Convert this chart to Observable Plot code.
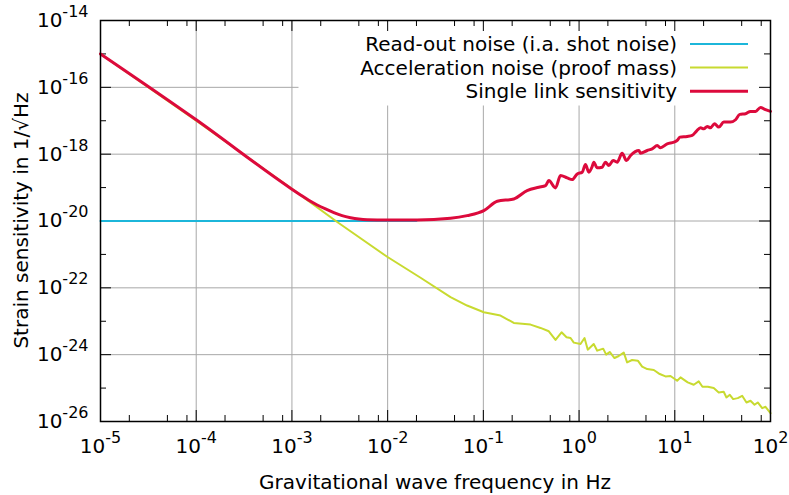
<!DOCTYPE html>
<html>
<head>
<meta charset="utf-8">
<script src="https://cdn.jsdelivr.net/npm/d3@7"></script>
<script src="https://cdn.jsdelivr.net/npm/@observablehq/plot@0.6"></script>
<style>
  html, body { margin: 0; padding: 0; background: #fff; }
  #chart { width: 789px; height: 495px; }
</style>
</head>
<body>
<div id="chart"></div>
<script>
// ---- data (log10 exponents) ----
const readoutFreqExp   = [-5, -4, -3, -2, -1.7];
const readoutStrainExp = [-20, -20, -20, -20, -20];

const accelFreqExp = [-5, -4, -3, -2.527, -2.005, -1.66, -1.343, -1.170, -0.995, -0.821, -0.682,
  -0.507, -0.403, -0.316, -0.246, -0.183, -0.131, -0.089, -0.055, 0.015, 0.057,
  0.091, 0.153, 0.190, 0.252, 0.283, 0.320, 0.370, 0.414, 0.467, 0.502,
  0.554, 0.614, 0.659, 0.712, 0.781, 0.843, 0.903, 0.955, 1.025, 1.060,
  1.135, 1.198, 1.250, 1.289, 1.345, 1.407, 1.459, 1.511, 1.540, 1.575,
  1.610, 1.658, 1.704, 1.749, 1.791, 1.833, 1.867, 1.913, 1.948, 2.000];
const accelStrainExp = [-15.00, -17.00, -19.04, -20.03, -21.07, -21.69, -22.28, -22.53, -22.73, -22.83, -23.05,
  -23.10, -23.20, -23.30, -23.56, -23.33, -23.48, -23.50, -23.64, -23.68, -23.50,
  -23.85, -23.68, -23.88, -23.82, -24.00, -23.92, -24.10, -24.04, -23.94, -24.23,
  -24.16, -24.18, -24.36, -24.43, -24.46, -24.58, -24.65, -24.64, -24.78, -24.68,
  -24.83, -24.90, -24.80, -24.96, -24.96, -25.00, -25.13, -25.11, -25.28, -25.20,
  -25.33, -25.30, -25.23, -25.43, -25.38, -25.50, -25.43, -25.60, -25.56, -25.75];

const sensFreqExp = [-5, -4, -3.004, -2.910, -2.824, -2.736, -2.649, -2.562, -2.476, -2.388, -2.302, -2.213,
  -2.005, -1.691, -1.343,
  -1.170, -0.995, -0.855, -0.682, -0.543, -0.421, -0.350, -0.316, -0.246, -0.194,
  -0.124, -0.072, -0.019, 0.033, 0.067, 0.102, 0.137, 0.154, 0.189, 0.241,
  0.276, 0.311, 0.356, 0.398, 0.450, 0.495, 0.538, 0.625, 0.642, 0.712,
  0.764, 0.817, 0.851, 0.921, 0.990, 1.025, 1.053, 1.130, 1.182, 1.227,
  1.269, 1.303, 1.339, 1.373, 1.415, 1.460, 1.512, 1.582, 1.635, 1.679,
  1.739, 1.791, 1.844, 1.896, 1.948, 2.000];
const sensStrainExp = [-15.00, -16.97, -19.04, -19.22, -19.38, -19.52, -19.64, -19.75, -19.84, -19.90, -19.94, -19.96,
  -19.97, -19.97, -19.92,
  -19.84, -19.69, -19.41, -19.34, -19.09, -18.99, -18.94, -18.79, -19.01, -18.64,
  -18.71, -18.76, -18.59, -18.54, -18.31, -18.54, -18.37, -18.24, -18.41, -18.39,
  -18.24, -18.34, -18.19, -18.24, -17.97, -18.19, -18.04, -17.89, -17.97, -17.89,
  -17.84, -17.74, -17.81, -17.69, -17.64, -17.59, -17.49, -17.47, -17.44, -17.31,
  -17.21, -17.24, -17.17, -17.21, -17.09, -17.19, -17.04, -17.04, -16.97, -16.81,
  -16.79, -16.72, -16.72, -16.60, -16.67, -16.72];

const seriesNames  = ["Read-out noise (i.a. shot noise)", "Acceleration noise (proof mass)", "Single link sensitivity"];
const seriesColors = ["#1cb6da", "#c8da30", "#dc0a3c"];

// ---- ticks ----
const xDecadeExp = [-5, -4, -3, -2, -1, 0, 1, 2];
const xMinorMult = [2, 5, 8];
const yMajorExp  = [-26, -24, -22, -20, -18, -16, -14];
const yMinorExp  = [-25, -23, -21, -19, -17, -15];

const pts = (fe, se) => fe.map((f, i) => ({f: 10 ** f, s: 10 ** se[i]}));
const readout = pts(readoutFreqExp, readoutStrainExp);
const accel   = pts(accelFreqExp, accelStrainExp);
const sens    = pts(sensFreqExp, sensStrainExp);

const xMajor = xDecadeExp.map(e => 10 ** e);
const xMinor = xDecadeExp.slice(0, -1).flatMap(e => xMinorMult.map(m => m * 10 ** e));
const yMajor = yMajorExp.map(e => 10 ** e);
const yMinor = yMinorExp.map(e => 10 ** e);

const W = 789, H = 495, mL = 100, mR = 19, mT = 20, mB = 74;
const iw = W - mL - mR, ih = H - mT - mB;
const fmt = d => "10^" + Math.round(Math.log10(d));
const gridColor = "#a8a8a8";

const chart = Plot.plot({
  width: W, height: H,
  marginLeft: mL, marginRight: mR, marginTop: mT, marginBottom: mB,
  style: {fontFamily: "'DejaVu Sans', sans-serif", fontSize: "20px", background: "#fff", color: "#000"},
  x: {type: "log", domain: [1e-5, 1e2], label: null},
  y: {type: "log", domain: [1e-26, 1e-14], label: null},
  marks: [
    Plot.gridX(xMajor, {stroke: gridColor, strokeOpacity: 1, strokeWidth: 1}),
    Plot.gridY(yMajor, {stroke: gridColor, strokeOpacity: 1, strokeWidth: 1}),
    Plot.frame({fill: "#fff", stroke: null, insetLeft: 198, insetBottom: ih - 85, insetTop: 1, insetRight: 1}),
    Plot.ruleX(xMajor, {stroke: "#000", insetTop: ih - 11}),
    Plot.ruleX(xMajor, {stroke: "#000", insetBottom: ih - 11}),
    Plot.ruleX(xMinor, {stroke: "#000", insetTop: ih - 6}),
    Plot.ruleX(xMinor, {stroke: "#000", insetBottom: ih - 6}),
    Plot.ruleY(yMajor, {stroke: "#000", insetRight: iw - 11}),
    Plot.ruleY(yMajor, {stroke: "#000", insetLeft: iw - 11}),
    Plot.ruleY(yMinor, {stroke: "#000", insetRight: iw - 6}),
    Plot.ruleY(yMinor, {stroke: "#000", insetLeft: iw - 6}),
    Plot.line(readout, {x: "f", y: "s", stroke: seriesColors[0], strokeWidth: 2}),
    Plot.line(accel, {x: "f", y: "s", stroke: seriesColors[1], strokeWidth: 2, strokeLinejoin: "round"}),
    Plot.line(sens, {x: "f", y: "s", stroke: seriesColors[2], strokeWidth: 3, curve: "monotone-x", strokeLinejoin: "round"}),
    Plot.frame({stroke: "#000", strokeWidth: 1.5}),
    Plot.axisX(xMajor, {tickSize: 0, tickPadding: 17, tickFormat: fmt, fontSize: 20, label: null}),
    Plot.axisY(yMajor, {tickSize: 0, tickPadding: 12, tickFormat: fmt, fontSize: 20, label: null})
  ]
});

document.getElementById("chart").appendChild(chart);

const svg = d3.select(chart);
svg.selectAll('g[aria-label="x-axis tick label"] text, g[aria-label="y-axis tick label"] text').each(function () {
  const t = d3.select(this);
  const parts = t.text().split("^");
  t.text(null);
  t.append("tspan").text(parts[0]);
  t.append("tspan").attr("dy", -10).attr("font-size", 16).text(parts[1]);
});

// axis titles
svg.append("text")
  .attr("x", mL + iw / 2).attr("y", 489)
  .attr("text-anchor", "middle").attr("font-size", 20).attr("fill", "#000")
  .text("Gravitational wave frequency in Hz");
svg.append("text")
  .attr("transform", `translate(28,${mT + ih / 2}) rotate(-90)`)
  .attr("text-anchor", "middle").attr("font-size", 20).attr("fill", "#000")
  .text("Strain sensitivity in 1/\u221AHz");

// legend
const lg = svg.append("g").attr("aria-label", "legend");
seriesNames.forEach((name, i) => {
  const yb = 51 + 23.6 * i;
  lg.append("text").attr("x", 677).attr("y", yb)
    .attr("text-anchor", "end").attr("font-size", 20).attr("fill", "#000").text(name);
  lg.append("line").attr("x1", 690).attr("x2", 748)
    .attr("y1", yb - 7).attr("y2", yb - 7)
    .attr("stroke", seriesColors[i]).attr("stroke-width", i === 2 ? 3 : 2);
});
</script>
</body>
</html>
